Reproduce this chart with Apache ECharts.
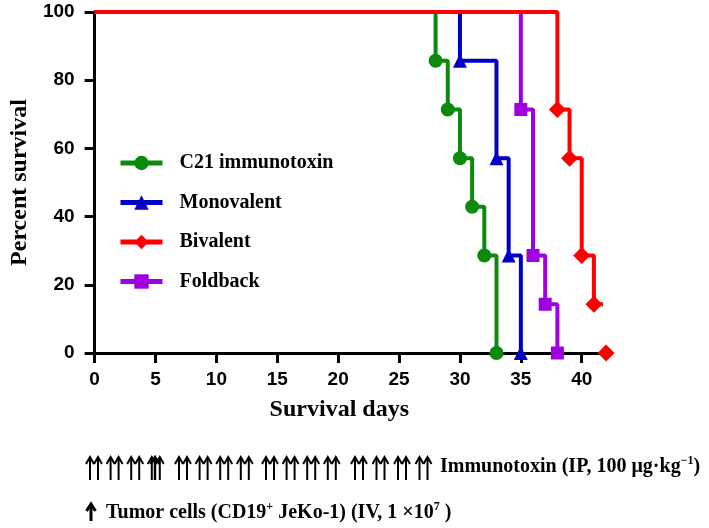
<!DOCTYPE html>
<html><head><meta charset="utf-8">
<script src="https://cdn.jsdelivr.net/npm/echarts@6/dist/echarts.min.js"></script>
<style>html,body{margin:0;padding:0;background:#fff}#c{width:709px;height:528px}</style>
</head><body><div id="c"></div>
<script>
// ---- data ----
const seriesNames = ['C21 immunotoxin', 'Monovalent', 'Bivalent', 'Foldback'];
const c21Days  = [0, 28, 29, 30, 31, 32, 33];
const c21Surv  = [100, 85.7, 71.4, 57.1, 42.9, 28.6, 0];
const monoDays = [0, 30, 33, 34, 35];
const monoSurv = [100, 85.7, 57.1, 28.6, 0];
const bivDays  = [0, 38, 39, 40, 41, 42];
const bivSurv  = [100, 71.4, 57.1, 28.6, 14.3, 0];
const foldDays = [0, 35, 36, 37, 38];
const foldSurv = [100, 71.4, 28.6, 14.3, 0];
const xTicks = [0, 5, 10, 15, 20, 25, 30, 35, 40];
const yTicks = [0, 20, 40, 60, 80, 100];
const xTitle = 'Survival days';
const yTitle = 'Percent survival';

// ---- style ----
const colors = ['#0b8a0b', '#0000c8', '#ff0000', '#a000e0'];
const symbols = ['circle', 'triangle', 'diamond', 'rect'];
const symSizes = [14, 14, 17, 13];
const SERIF = '"Liberation Serif","Times New Roman",serif';
const SANS = '"Liberation Sans",Arial,sans-serif';

function pts(days, surv) {
  return days.map((d, i) => i === 0 ? { value: [d, surv[i]], symbol: 'none' } : [d, surv[i]]);
}
const allData = [pts(c21Days, c21Surv), pts(monoDays, monoSurv), pts(bivDays, bivSurv), pts(foldDays, foldSurv)];

const series = seriesNames.map((n, i) => ({
  type: 'line', name: n, step: 'end', data: allData[i],
  symbol: symbols[i], symbolSize: symSizes[i], showAllSymbol: true,
  lineStyle: { width: 4, color: colors[i] }, itemStyle: { color: colors[i] },
  clip: false, z: n === 'Bivalent' ? 4 : 3, animation: false
}));

// arrows graphic
const graphics = [];
function arrow(x, yTop, yBot, hw, hh, lw) {
  graphics.push({ type: 'line', shape: { x1: x, y1: yBot, x2: x, y2: yTop + 1 }, style: { stroke: '#000', lineWidth: lw } });
  graphics.push({ type: 'polyline', shape: { points: [[x - hw, yTop + hh], [x, yTop], [x + hw, yTop + hh]] }, style: { stroke: '#000', lineWidth: lw, fill: null } });
}
const groupStarts = [87, 176, 263, 352];
groupStarts.forEach((gs, g) => {
  for (let p = 0; p < 4; p++) {
    const x = gs + p * (g === 3 ? 21.5 : 20.6);
    arrow(x + 3, 457, 480, 4, 7, 2);
    arrow(x + 11, 457, 480, 4, 7, 2);
  }
});
arrow(155, 457, 480, 4.5, 7, 2.5);
arrow(91, 504, 521, 4.5, 7, 3);

const richSup = {
  n: { fontFamily: SERIF, fontWeight: 'bold', fontSize: 20, lineHeight: 24, fill: '#000' },
  s: { fontFamily: SERIF, fontWeight: 'bold', fontSize: 12, lineHeight: 24, verticalAlign: 'top', padding: [0, 0, 9, 0], fill: '#000' }
};
graphics.push({
  type: 'text', left: 440, top: 455,
  style: { text: '{n|Immunotoxin (IP, 100 μg·kg}{s|−1}{n|)}', rich: richSup }
});
graphics.push({
  type: 'text', left: 106, top: 501,
  style: { text: '{n|Tumor cells (CD19}{s|+}{n| JeKo-1) (IV, 1 ×10}{s|7}{n| )}', rich: richSup }
});

const chart = echarts.init(document.getElementById('c'), null, { renderer: 'canvas' });
chart.setOption({
  animation: false,
  backgroundColor: '#fff',
  grid: { left: 93, right: 109, top: 12, bottom: 175, containLabel: false },
  xAxis: {
    type: 'value', min: 0, max: 41.5, interval: 5,
    name: xTitle, nameLocation: 'middle', nameGap: 45,
    nameTextStyle: { fontFamily: SERIF, fontWeight: 'bold', fontSize: 24, color: '#000', padding: [0, 16, 0, 0] },
    axisLine: { onZero: false, lineStyle: { color: '#000', width: 3 } },
    axisTick: { length: 10, lineStyle: { color: '#000', width: 3 }, customValues: xTicks },
    axisLabel: { margin: 17, fontFamily: SANS, fontWeight: 'bold', fontSize: 19, color: '#000', customValues: xTicks },
    splitLine: { show: false }
  },
  yAxis: {
    type: 'value', min: 0, max: 100, interval: 20,
    name: yTitle, nameLocation: 'middle', nameGap: 60,
    nameTextStyle: { fontFamily: SERIF, fontWeight: 'bold', fontSize: 24, color: '#000' },
    axisLine: { show: true, onZero: false, lineStyle: { color: '#000', width: 3 } },
    axisTick: { show: true, length: 10, lineStyle: { color: '#000', width: 3 }, customValues: yTicks },
    axisLabel: { margin: 20, fontFamily: SANS, fontWeight: 'bold', fontSize: 19, color: '#000', customValues: yTicks },
    splitLine: { show: false }
  },
  legend: {
    orient: 'vertical', left: 118, top: 152, padding: 0, itemWidth: 42, itemHeight: 18, itemGap: 17.5,
    data: seriesNames,
    lineStyle: { width: 5 },
    textStyle: { fontFamily: SERIF, fontWeight: 'bold', fontSize: 20, color: '#000', lineHeight: 22, padding: [0, 0, 0, 12] }
  },
  series: series,
  graphic: graphics
});
</script>
</body></html>
